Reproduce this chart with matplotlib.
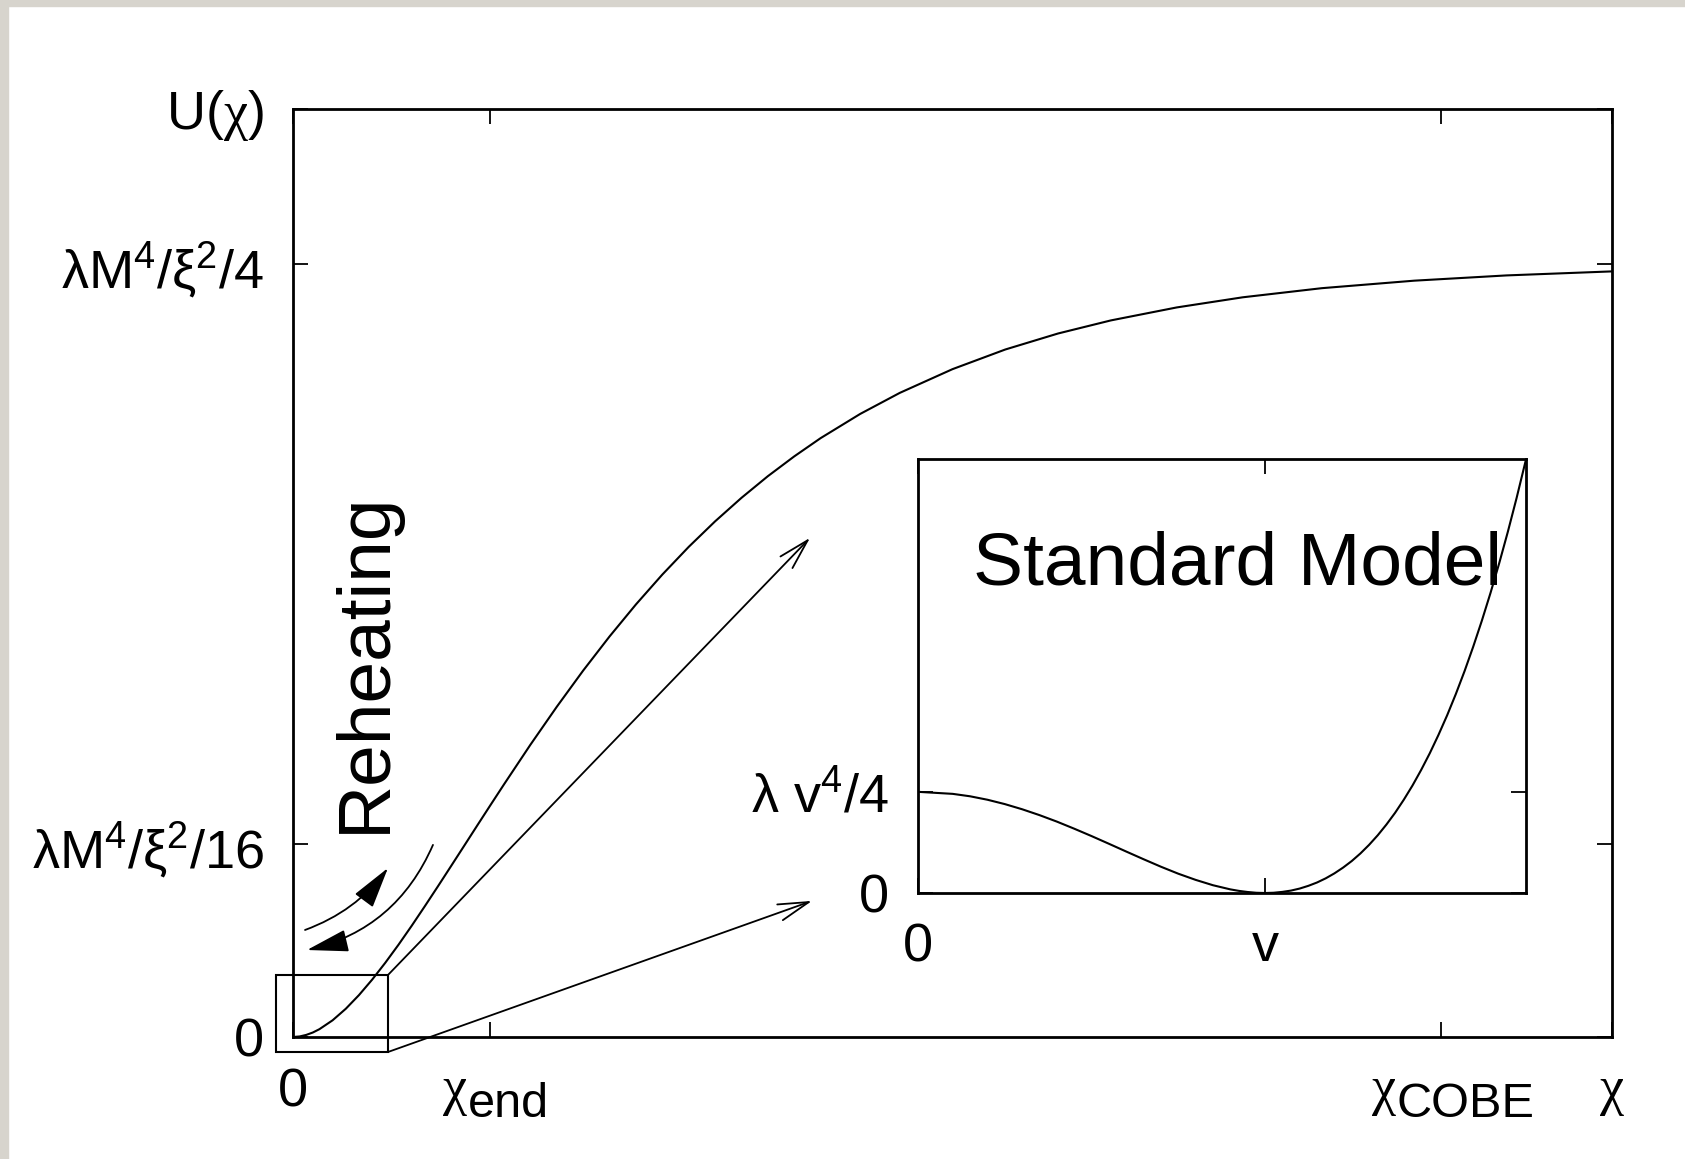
import matplotlib
matplotlib.use('Agg')
import matplotlib.pyplot as plt
from matplotlib.patches import Rectangle

plt.rcParams.update({'font.family': 'Liberation Sans', 'font.size': 39,
                     'mathtext.fontset': 'custom',
                     'mathtext.rm': 'Liberation Sans',
                     'mathtext.it': 'Liberation Serif',
                     'mathtext.default': 'regular'})

# main potential U(chi), U in units of lambda M^4/xi^2/4, chi in plot units
chi = [0, 0.005, 0.01, 0.015, 0.02, 0.03, 0.04, 0.05, 0.06, 0.07, 0.08, 0.09, 0.10,
       0.11, 0.12, 0.13, 0.14, 0.15, 0.16, 0.18, 0.20, 0.22, 0.24, 0.26, 0.28, 0.30,
       0.32, 0.34, 0.36, 0.38, 0.40, 0.43, 0.46, 0.50, 0.54, 0.58, 0.62, 0.67, 0.72,
       0.78, 0.85, 0.92, 1.00]
U = [0, 0.0007, 0.0027, 0.0058, 0.0101, 0.0216, 0.0365, 0.0542, 0.0742, 0.0961,
     0.1194, 0.1439, 0.1693, 0.1952, 0.2215, 0.2479, 0.2744, 0.3007, 0.3268, 0.3780,
     0.4271, 0.4739, 0.5180, 0.5594, 0.5980, 0.6338, 0.6668, 0.6972, 0.7252, 0.7508,
     0.7744, 0.8057, 0.8329, 0.8636, 0.8890, 0.9097, 0.9266, 0.9434, 0.9565, 0.9683,
     0.9780, 0.9848, 0.9900]

# inset: Standard Model potential, phi in units of v, V in units of lambda v^4/4
phi = [0, 0.1, 0.15, 0.2, 0.25, 0.3, 0.35, 0.4, 0.45, 0.5, 0.55, 0.6, 0.65, 0.7, 0.75,
       0.8, 0.85, 0.9, 0.925, 0.95, 0.975, 1.0, 1.025, 1.05, 1.075, 1.1, 1.125, 1.15,
       1.175, 1.2, 1.225, 1.25, 1.275, 1.3, 1.325, 1.35, 1.375, 1.4, 1.425, 1.45,
       1.475, 1.5, 1.525, 1.55, 1.575, 1.6, 1.625, 1.65, 1.675, 1.7, 1.725, 1.752]
V = [1.0, 0.980, 0.956, 0.922, 0.879, 0.828, 0.770, 0.706, 0.636, 0.563, 0.487, 0.410,
     0.334, 0.260, 0.191, 0.130, 0.077, 0.036, 0.021, 0.010, 0.0024, 0.0, 0.0026,
     0.011, 0.024, 0.044, 0.071, 0.104, 0.145, 0.194, 0.251, 0.316, 0.391, 0.476,
     0.571, 0.677, 0.793, 0.922, 1.062, 1.216, 1.382, 1.563, 1.757, 1.967, 2.192,
     2.434, 2.692, 2.967, 3.260, 3.572, 3.903, 4.283]

main_xticks = [0, 0.149, 0.870, 1.0]
main_xlabels = ['0', '', '', r'$\mathit{χ}$']
main_yticks = [0, 0.25, 1.0, 1.2]
main_ylabels = ['0', 'λM$^4$/ξ$^2$/16', 'λM$^4$/ξ$^2$/4', r'U($\mathit{χ}$)']
inset_xticks = [0, 1]
inset_xlabels = ['0', 'v']
inset_yticks = [0, 1]
inset_ylabels = ['0', 'λ v$^4$/4']

fig = plt.figure(figsize=(16.85, 11.59), dpi=100)
grey = '#d7d4cd'
fig.patches.append(Rectangle((0, 0), 8 / 1685, 1, transform=fig.transFigure,
                             color=grey, zorder=-5))
fig.patches.append(Rectangle((0, 1 - 6 / 1159), 1, 6 / 1159, transform=fig.transFigure,
                             color=grey, zorder=-5))

ax = fig.add_axes([0.1739, 0.10526, 0.7828, 0.8007])
ax.plot(chi, U, color='black', lw=1.5)
ax.set_xlim(0, 1)
ax.set_ylim(0, 1.2)
ax.set_xticks(main_xticks, main_xlabels)
ax.set_yticks(main_yticks, main_ylabels)
ax.tick_params(direction='in', length=10.8, width=1.3, top=True, right=True)
ax.tick_params(axis='x', pad=22)
ax.tick_params(axis='y', pad=21)
for s in ax.spines.values():
    s.set_linewidth(2)

# chi_end and chi_COBE labels, subscripts lowered
for xt, dx, sub in [(0.149, -15.8, 'end'), (0.870, -31.7, 'COBE')]:
    ax.annotate('χ', xy=(xt, 0), xycoords=('data', 'axes fraction'), xytext=(dx, -48),
                textcoords='offset points', ha='right', va='baseline',
                family='Liberation Serif')
    ax.annotate(sub, xy=(xt, 0), xycoords=('data', 'axes fraction'), xytext=(dx, -57.6),
                textcoords='offset points', ha='left', va='baseline', fontsize=35)

ax.text(0.0546, 0.485, 'Reheating', rotation=90, ha='center', va='center', fontsize=54)

# zoom box near the origin and the arrows to the inset
ax.add_patch(Rectangle((-0.0129, -0.0194), 0.0849, 0.0996, fill=False, lw=1.5,
                       ec='black', clip_on=False))
open_head = dict(arrowstyle='->,head_length=1.1,head_width=0.3', lw=1.3, color='black',
                 shrinkA=0, shrinkB=0, mutation_scale=20)
ax.annotate('', xy=(0.392, 0.6455), xytext=(0.072, 0.0802), arrowprops=open_head,
            annotation_clip=False)
ax.annotate('', xy=(0.3935, 0.176), xytext=(0.072, -0.0194), arrowprops=open_head,
            annotation_clip=False)

# reheating arrows
ax.annotate('', xy=(0.072, 0.2186), xytext=(0.0091, 0.1384),
            arrowprops=dict(arrowstyle='-|>,head_length=1.3,head_width=0.35', lw=1.3,
                            color='black', shrinkA=0, shrinkB=0, mutation_scale=20,
                            connectionstyle='arc3,rad=0.15'))
ax.annotate('', xy=(0.0106, 0.1125), xytext=(0.1061, 0.2484),
            arrowprops=dict(arrowstyle='-|>,head_length=1.3,head_width=0.35', lw=1.3,
                            color='black', shrinkA=0, shrinkB=0, mutation_scale=20,
                            connectionstyle='arc3,rad=-0.25'))

# inset
ins = fig.add_axes([0.5448, 0.2295, 0.3608, 0.3745])
ins.plot(phi, V, color='black', lw=1.5)
ins.set_xlim(0, 1.752)
ins.set_ylim(0, 4.29)
ins.set_xticks(inset_xticks, inset_xlabels)
ins.set_yticks(inset_yticks, inset_ylabels)
ins.tick_params(direction='in', length=10.8, width=1.3, top=True, right=True, pad=21)
for s in ins.spines.values():
    s.set_linewidth(2)
ins.text(0.526, 0.7097, 'Standard Model', transform=ins.transAxes, ha='center',
         va='baseline', fontsize=54)

fig.savefig('out.png', dpi=100)
